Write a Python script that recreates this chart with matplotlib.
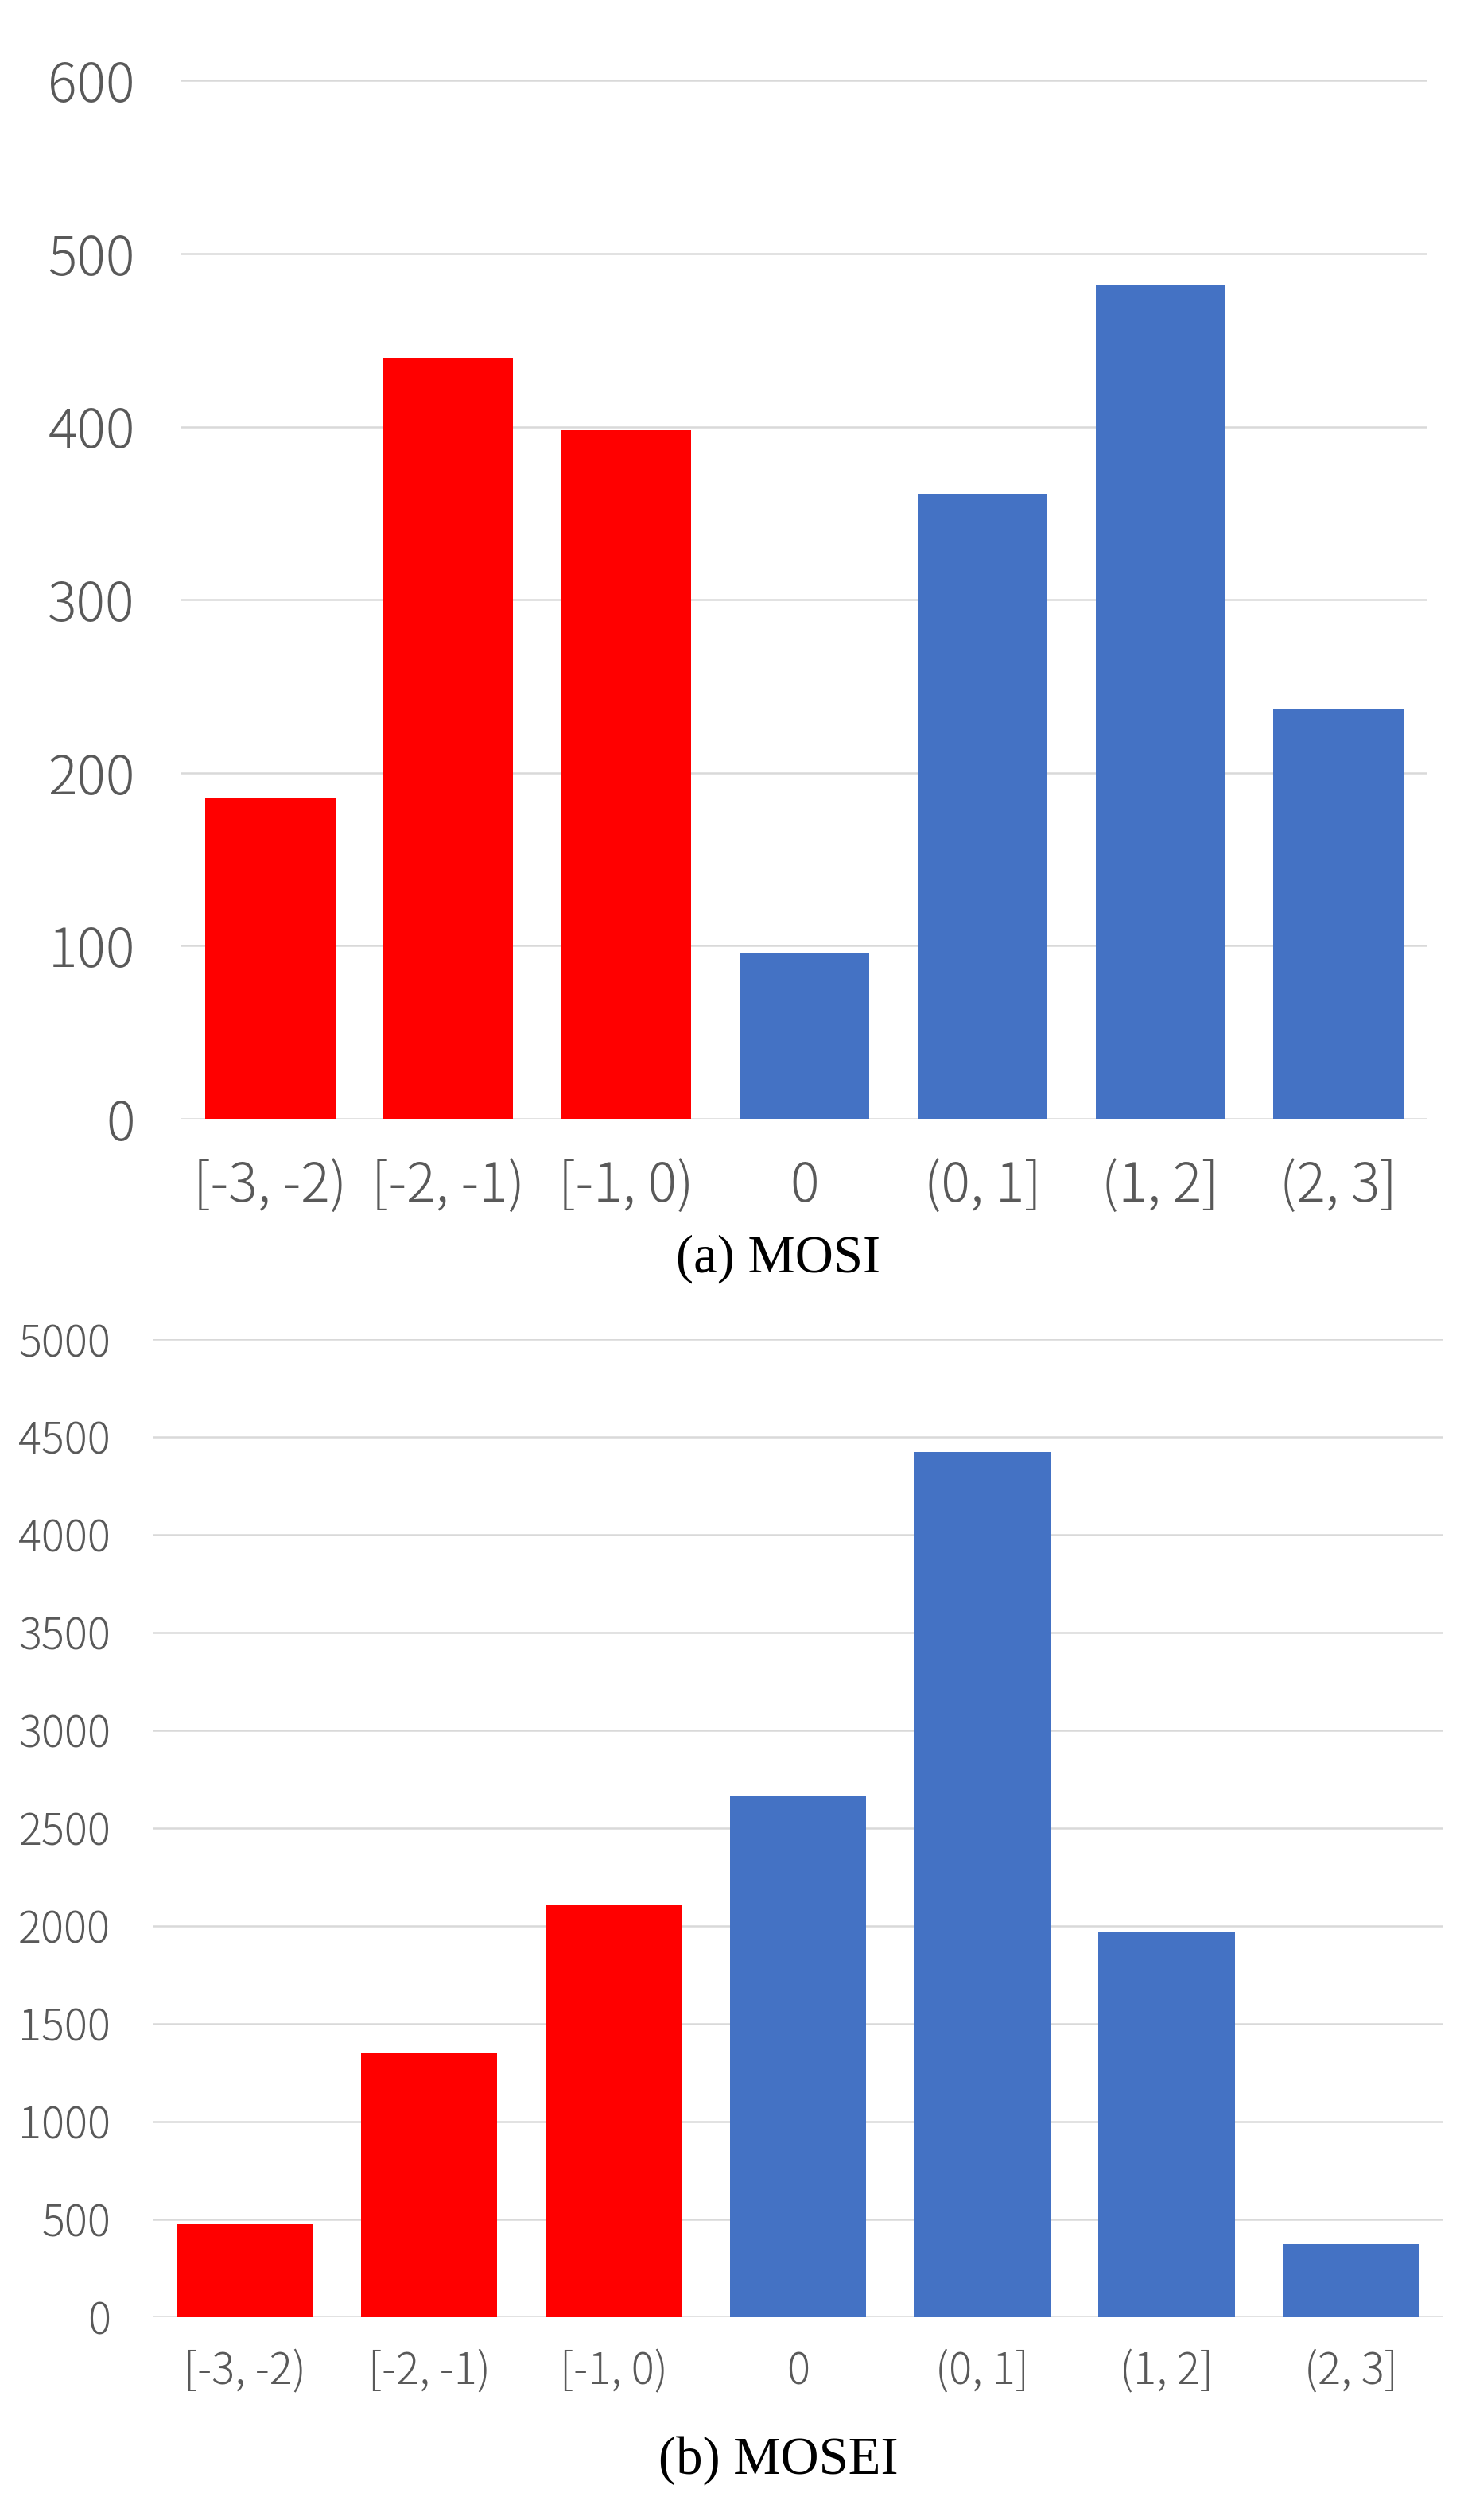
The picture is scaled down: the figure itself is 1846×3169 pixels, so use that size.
import matplotlib
matplotlib.use("Agg")
import matplotlib.pyplot as plt

categories = ["[-3, -2)", "[-2, -1)", "[-1, 0)", "0", "(0, 1]", "(1, 2]", "(2, 3]"]
mosi_values = [185, 440, 398, 96, 361, 482, 237]
mosei_values = [475, 1350, 2107, 2663, 4424, 1966, 375]
bar_colors = ["#FF0000", "#FF0000", "#FF0000", "#4472C4", "#4472C4", "#4472C4", "#4472C4"]
mosi_ticks = [0, 100, 200, 300, 400, 500, 600]
mosei_ticks = list(range(0, 5001, 500))

tick_font = dict(family=["Noto Sans CJK JP", "DejaVu Sans"], weight="light")
grid_color = "#D9D9D9"
text_color = "#595959"

fig = plt.figure(figsize=(18.46, 31.69), dpi=100)

def style(ax, ticks, ymax, fs, ypad, xpad):
    x = range(len(categories))
    ax.set_ylim(0, ymax)
    ax.set_xlim(-0.5, len(categories) - 0.5)
    ax.set_yticks(ticks)
    ax.set_yticklabels([str(t) for t in ticks], fontsize=fs, color=text_color, **tick_font)
    ax.set_xticks(list(x))
    ax.set_xticklabels(categories, fontsize=fs, color=text_color, **tick_font)
    for s in ax.spines.values():
        s.set_visible(False)
    ax.tick_params(axis="both", length=0)
    ax.tick_params(axis="y", pad=ypad)
    ax.tick_params(axis="x", pad=xpad)
    ax.yaxis.grid(True, color=grid_color, linewidth=1.8, zorder=0)
    ax.set_axisbelow(True)

ax1 = fig.add_axes([0.1235, 0.556, 0.8489, 0.412])
ax1.bar(range(len(categories)), mosi_values, width=0.73, color=bar_colors, zorder=2)
style(ax1, mosi_ticks, 600, 49, 42, 36)

ax2 = fig.add_axes([0.104, 0.0805, 0.879, 0.3881])
ax2.bar(range(len(categories)), mosei_values, width=0.74, color=bar_colors, zorder=2)
style(ax2, mosei_ticks, 5000, 39, 38, 29)

fig.text(0.530, 0.5005, "(a) MOSI", ha="center", va="center", fontsize=48,
         family=["Liberation Serif", "DejaVu Serif"], color="black")
fig.text(0.530, 0.0237, "(b) MOSEI", ha="center", va="center", fontsize=48,
         family=["Liberation Serif", "DejaVu Serif"], color="black")

fig.savefig("out.png", dpi=100, facecolor="white")
